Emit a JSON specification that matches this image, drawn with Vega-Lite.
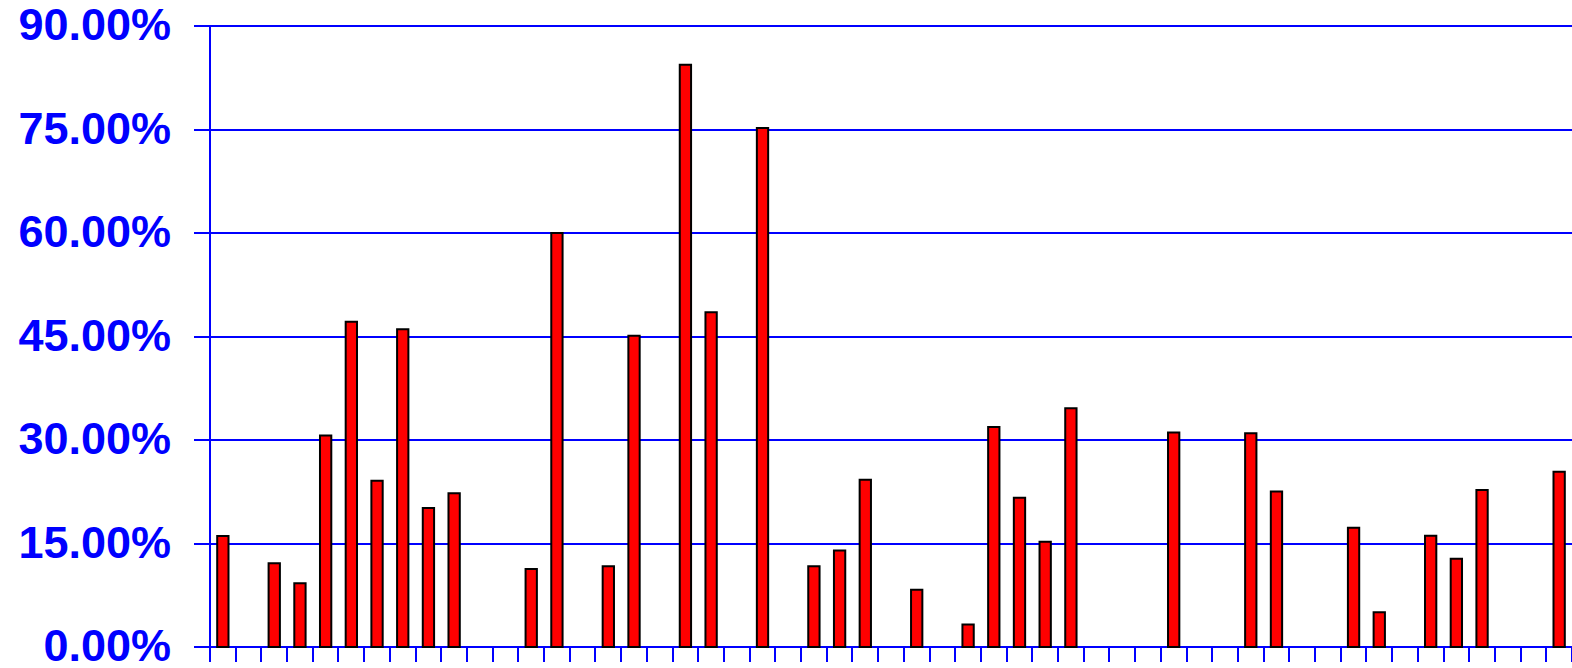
{
  "$schema": "https://vega.github.io/schema/vega-lite/v6.json",
  "autosize": "none",
  "padding": {"left": 210, "top": 26, "right": 0, "bottom": 21},
  "width": 1362,
  "height": 621,
  "background": "white",
  "config": {"view": {"stroke": null}},
  "data": {
    "values": [
      {"cat": 0, "value": 0.161},
      {"cat": 2, "value": 0.1215},
      {"cat": 3, "value": 0.0925},
      {"cat": 4, "value": 0.3067},
      {"cat": 5, "value": 0.4713},
      {"cat": 6, "value": 0.241},
      {"cat": 7, "value": 0.4606},
      {"cat": 8, "value": 0.2013},
      {"cat": 9, "value": 0.223},
      {"cat": 12, "value": 0.113},
      {"cat": 13, "value": 0.600},
      {"cat": 15, "value": 0.117},
      {"cat": 16, "value": 0.451},
      {"cat": 18, "value": 0.844},
      {"cat": 19, "value": 0.485},
      {"cat": 21, "value": 0.752},
      {"cat": 23, "value": 0.117},
      {"cat": 24, "value": 0.140},
      {"cat": 25, "value": 0.2424},
      {"cat": 27, "value": 0.0828},
      {"cat": 29, "value": 0.0326},
      {"cat": 30, "value": 0.3188},
      {"cat": 31, "value": 0.2163},
      {"cat": 32, "value": 0.1525},
      {"cat": 33, "value": 0.346},
      {"cat": 37, "value": 0.311},
      {"cat": 40, "value": 0.3097},
      {"cat": 41, "value": 0.2255},
      {"cat": 44, "value": 0.1728},
      {"cat": 45, "value": 0.0505},
      {"cat": 47, "value": 0.1612},
      {"cat": 48, "value": 0.1278},
      {"cat": 49, "value": 0.2274},
      {"cat": 52, "value": 0.254}
    ]
  },
  "mark": {"type": "bar", "fill": "#FF0000", "stroke": "#000000", "strokeWidth": 2, "width": {"band": 0.44}},
  "encoding": {
    "x": {
      "field": "cat",
      "type": "ordinal",
      "scale": {
        "domain": [0,1,2,3,4,5,6,7,8,9,10,11,12,13,14,15,16,17,18,19,20,21,22,23,24,25,26,27,28,29,30,31,32,33,34,35,36,37,38,39,40,41,42,43,44,45,46,47,48,49,50,51,52],
        "paddingInner": 0,
        "paddingOuter": 0
      },
      "axis": {
        "title": null,
        "labels": false,
        "grid": false,
        "tickBand": "extent",
        "translate": 0,
        "ticks": true,
        "tickSize": 15,
        "tickWidth": 2,
        "tickColor": "#0000FF",
        "domain": true,
        "domainColor": "#0000FF",
        "domainWidth": 2
      }
    },
    "y": {
      "field": "value",
      "type": "quantitative",
      "scale": {"domain": [0, 0.9], "nice": false, "zero": true},
      "axis": {
        "title": null,
        "translate": 0,
        "values": [0, 0.15, 0.3, 0.45, 0.6, 0.75, 0.9],
        "format": ".2%",
        "grid": true,
        "gridColor": "#0000FF",
        "gridWidth": 2,
        "gridOpacity": 1,
        "domain": true,
        "domainColor": "#0000FF",
        "domainWidth": 2,
        "ticks": true,
        "tickSize": 16,
        "tickWidth": 2,
        "tickColor": "#0000FF",
        "labelColor": "#0000FF",
        "labelFont": "Liberation Sans",
        "labelFontWeight": "bold",
        "labelFontSize": 45,
        "labelPadding": 23,
        "labelBaseline": "middle",
        "labelFlush": false,
        "labelOverlap": false
      }
    }
  }
}
